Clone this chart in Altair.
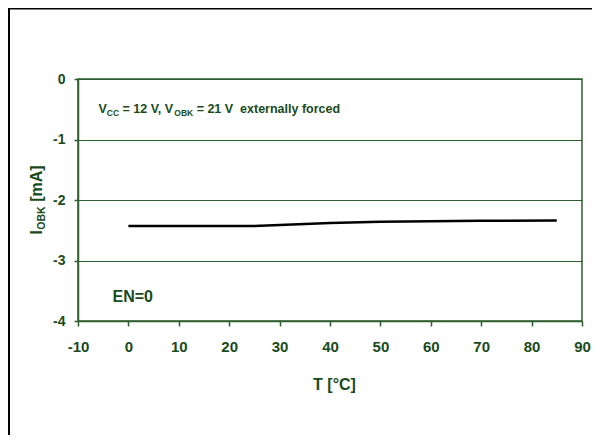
import altair as alt
import pandas as pd

# ---- data ----
temps = [0, 10, 20, 25, 30, 35, 40, 50, 55, 60, 70, 85]
iobk = [-2.43, -2.43, -2.43, -2.43, -2.415, -2.395, -2.38, -2.36, -2.355, -2.35, -2.345, -2.34]
x_ticks = [-10, 0, 10, 20, 30, 40, 50, 60, 70, 80, 90]
y_ticks = [0, -1, -2, -3, -4]

TXT = "#1a4a1a"
GRID = "#2d5e2d"
FONT = "Liberation Sans"

W, H = 504, 242
PL, PT, PR, PB = 70, 71, 10, 114

# Arial/Liberation Sans Bold advance widths (per 1000 em)
AW = {"V": 667, "C": 722, "O": 778, "B": 722, "K": 722, "I": 278, " ": 278, "\u00a0": 278,
      "=": 584, "1": 556, "2": 556, ",": 278, "[": 333, "]": 333, "m": 889, "A": 722,
      "e": 556, "x": 556, "t": 333, "r": 389, "n": 611, "a": 556, "l": 278, "y": 556,
      "f": 333, "o": 611, "c": 556, "d": 611}


def tw(s, size):
    return sum(AW.get(ch, 556) for ch in s) * size / 1000.0


df = pd.DataFrame({"T": temps, "I": iobk})

xs = alt.Scale(domain=[-10, 90], nice=False, zero=False)
ys = alt.Scale(domain=[-4, 0], nice=False, zero=False)

LABEL_EXPR = "datum.value < 0 ? '-' + abs(datum.value) : '' + datum.value"

base = alt.Chart(df).mark_line(color="black", strokeWidth=2.5).encode(
    x=alt.X("T:Q", scale=xs,
            axis=alt.Axis(values=x_ticks, title="T [°C]", grid=False, tickSize=5,
                          labelPadding=13, labelFontSize=15, labelFont=FONT, labelFontWeight="bold",
                          labelColor=TXT, domainColor=GRID, tickColor=GRID, domainWidth=1.5,
                          tickWidth=1.5, titleFont=FONT, titleFontSize=16, titleFontWeight="bold",
                          titleColor=TXT, titleX=256, titleY=68, titleBaseline="alphabetic",
                          labelFlush=False, labelExpr=LABEL_EXPR)),
    y=alt.Y("I:Q", scale=ys,
            axis=alt.Axis(values=y_ticks, title=None, grid=True, gridColor=GRID, gridWidth=1.2,
                          gridOpacity=1, tickSize=4, labelPadding=9, labelFontSize=14,
                          labelFont=FONT, labelFontWeight="bold", labelColor=TXT,
                          domainColor=GRID, tickColor=GRID, domainWidth=1.5, tickWidth=1.5,
                          labelFlush=False, labelExpr=LABEL_EXPR)),
)

layers = [base]

MS, SS = 12.5, 8.5
SP = tw(" ", MS)
# annotation: V_CC = 12 V, V_OBK = 21 V  externally forced
# (text, size, dy, gap before in px)
segs = [("V", MS, 0, 0), ("CC", SS, 3, 0), ("= 12 V, V", MS, 0, SP), ("OBK", SS, 3, 0),
        ("= 21 V", MS, 0, SP), ("externally forced", MS, 0, 2 * SP)]
ann_T, ann_I = -5.95, -0.56
off = 0.0
for s, size, dy, gap in segs:
    off += gap
    layers.append(
        alt.Chart(pd.DataFrame({"T": [ann_T], "I": [ann_I], "t": [s]})).mark_text(
            align="left", baseline="alphabetic", font=FONT, fontWeight="bold",
            fontSize=size, color=TXT, dx=off, dy=dy
        ).encode(x=alt.X("T:Q", scale=xs), y=alt.Y("I:Q", scale=ys), text="t:N")
    )
    off += tw(s, size)

# EN=0
layers.append(
    alt.Chart(pd.DataFrame({"T": [-3.15], "I": [-3.69], "t": ["EN=0"]})).mark_text(
        align="left", baseline="alphabetic", font=FONT, fontWeight="bold",
        fontSize=16, color=TXT
    ).encode(x=alt.X("T:Q", scale=xs), y=alt.Y("I:Q", scale=ys), text="t:N")
)

# y-axis title I_OBK [mA], rotated
SP16 = tw(" ", 16)
ysegs = [("I", 16, 0, 0), ("OBK", 10.5, 3, 0.5), ("[mA]", 16, 0, SP16)]
total = sum(tw(s, z) + g for s, z, _, g in ysegs)
cy = 200 - (8 + PT)  # centre in plot coords
start_y = cy + total / 2
off = 0.0
for s, size, dy, gap in ysegs:
    off += gap
    layers.append(
        alt.Chart(pd.DataFrame({"t": [s]})).mark_text(
            align="left", baseline="alphabetic", font=FONT, fontWeight="bold",
            fontSize=size, color=TXT, angle=270, dx=off, dy=dy
        ).encode(x=alt.value(-36.5), y=alt.value(start_y), text="t:N")
    )
    off += tw(s, size)

# page frame lines (top and left)
frame_df = pd.DataFrame({"k": [0]})
layers.append(
    alt.Chart(frame_df).mark_rule(color="black", strokeWidth=3).encode(
        x=alt.value(-PL), x2=alt.value(W + PR), y=alt.value(-PT))
)
layers.append(
    alt.Chart(frame_df).mark_rule(color="black", strokeWidth=3).encode(
        x=alt.value(-PL + 0.5), y=alt.value(-PT), y2=alt.value(H + PB))
)

chart = alt.layer(*layers).properties(
    width=W, height=H,
    autosize=alt.AutoSizeParams(type="none"),
    padding={"left": PL, "top": PT, "right": PR, "bottom": PB},
    background="white",
).configure_view(stroke=GRID, strokeWidth=1.5)

chart.save("out.html", embed_options={"renderer": "svg", "actions": False})
